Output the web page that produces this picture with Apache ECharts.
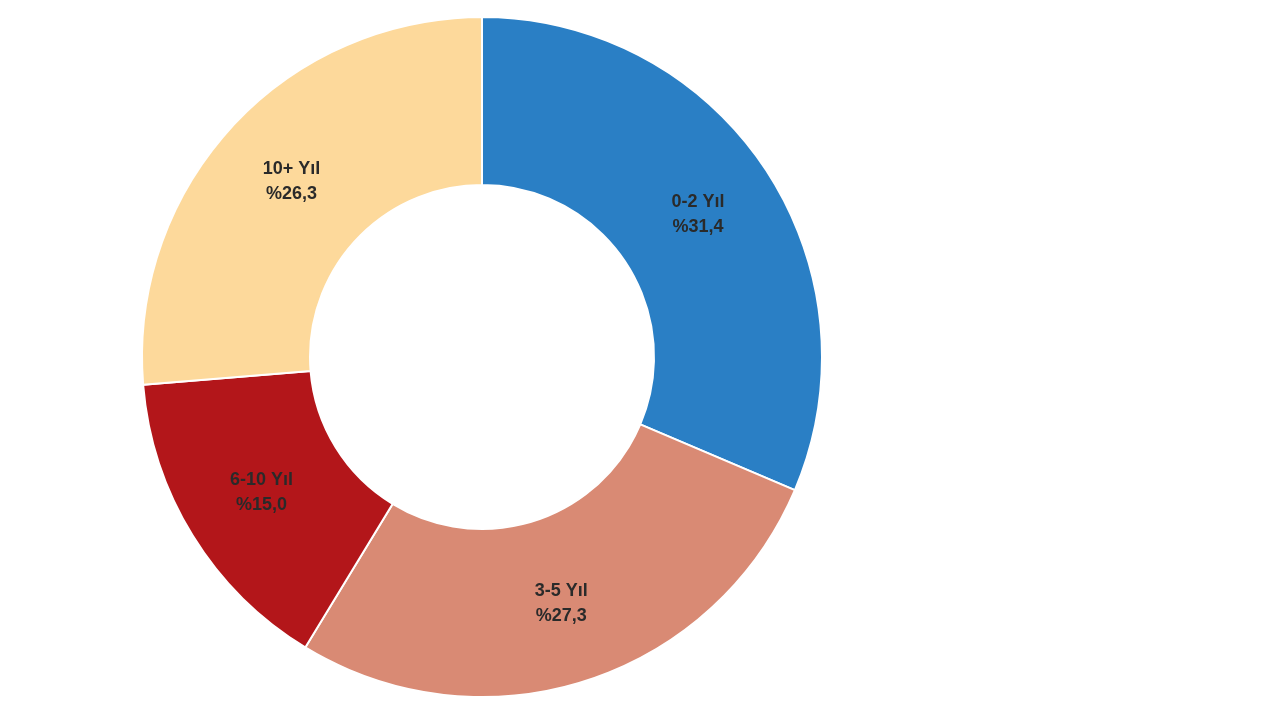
<!DOCTYPE html>
<html>
<head>
<meta charset="utf-8">
<script src="https://cdn.jsdelivr.net/npm/echarts@6/dist/echarts.min.js"></script>
<style>
  html, body { margin: 0; padding: 0; background: #ffffff; }
  #chart { width: 1280px; height: 720px; }
</style>
</head>
<body>
<div id="chart"></div>
<script>
// categories and shares (%), clockwise from 12 o'clock
const categories = ['0-2 Yıl', '3-5 Yıl', '6-10 Yıl', '10+ Yıl'];
const shares = [31.4, 27.3, 15.0, 26.3];
const colors = ['#2a7fc5', '#d98a74', '#b3161a', '#fdd99b'];

const FONT = '"Liberation Sans", Arial, sans-serif';

const chart = echarts.init(document.getElementById('chart'), null, { renderer: 'canvas' });
chart.setOption({
  backgroundColor: '#ffffff',
  animation: false,
  series: [{
    type: 'pie',
    center: [482, 357],
    radius: [172, 340],
    startAngle: 90,
    clockwise: true,
    avoidLabelOverlap: false,
    itemStyle: { borderColor: '#ffffff', borderWidth: 2 },
    label: {
      show: true,
      position: 'inside',
      color: '#2a2a2a',
      fontFamily: FONT,
      fontWeight: 'bold',
      fontSize: 18,
      lineHeight: 25,
      formatter: (p) => p.name + '\n%' + p.value.toFixed(1).replace('.', ',')
    },
    labelLine: { show: false },
    data: categories.map((c, i) => ({ name: c, value: shares[i], itemStyle: { color: colors[i] } }))
  }]
});
</script>
</body>
</html>
